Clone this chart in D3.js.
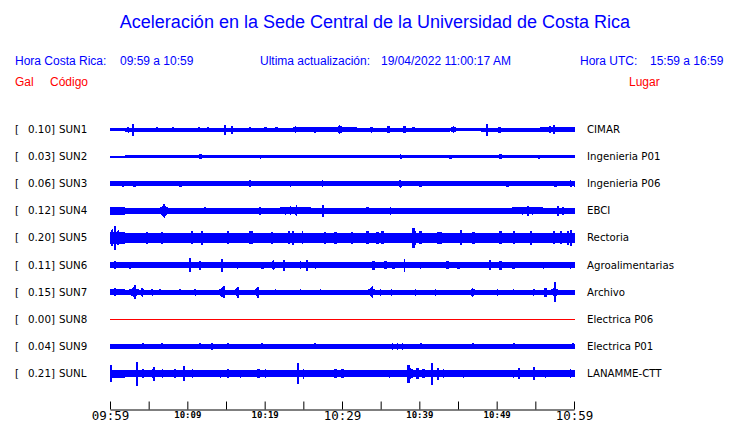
<!DOCTYPE html>
<html><head><meta charset="utf-8">
<script src="https://cdn.jsdelivr.net/npm/d3@7"></script>
<style>
html,body{margin:0;padding:0;background:#fff;}
svg{display:block;}
</style></head>
<body>
<script>
// ---------- DATA ----------
const stations = ["SUN1","SUN2","SUN3","SUN4","SUN5","SUN6","SUN7","SUN8","SUN9","SUNL"];
const galValues = [0.10,0.03,0.06,0.12,0.20,0.11,0.15,0.00,0.04,0.21];
const places = ["CIMAR","Ingenieria P01","Ingenieria P06","EBCI","Rectoria","Agroalimentarias","Archivo","Electrica P06","Electrica P01","LANAMME-CTT"];
const tickLabels = ["09:59","10:09","10:19","10:29","10:39","10:49","10:59"];
const tickMinutes = [0,5,10,15,20,25,30,35,40,45,50,55,60];

// envelope half-amplitude (relative units) every 2 minutes, 0..60
const baseSUN1 = [1.2,1.5,1.5,1.5,1.5,1.5,1.5,1.5,1.5,1.5,1.5,1.5,1.8,1.8,1.8,1.8,1.5,1.5,1.5,1.5,1.5,1.5,1.2,1.2,1.5,1.5,1.5,1.5,1.6,1.6,1.6];
const baseSUN2 = [0.5,1.2,1.2,1.0,1.3,1.3,1.2,1.3,1.3,1.2,1.3,1.3,1.3,1.2,1.2,1.3,1.3,1.3,1.3,1.2,1.3,1.2,1.0,1.0,1.2,1.2,1.0,1.2,1.3,1.3,1.3];
const baseSUN3 = [1.9,2.1,2.1,2.1,2.1,2.1,2.1,2.1,2.1,2.1,2.1,2.1,2.1,2.1,2.1,2.1,2.1,2.1,2.1,2.1,2.1,2.1,2.1,2.1,2.1,2.1,2.1,2.1,2.1,2.1,2.3];
const baseSUN4 = [3.3,2.7,2.6,2.6,2.6,2.6,2.6,2.6,2.6,2.6,2.6,3.0,3.0,2.6,2.6,2.4,2.6,2.6,2.6,2.6,2.6,2.6,2.6,2.6,2.6,2.6,3.0,3.0,2.7,2.7,2.7];
const baseSUN5 = [5.5,4.7,4.5,4.5,4.5,4.5,4.5,4.5,4.5,4.5,4.5,4.9,4.9,4.5,4.5,4.5,4.3,4.5,4.5,4.9,4.5,4.5,4.5,4.5,4.5,4.5,4.5,4.5,4.9,4.9,4.9];
const baseSUN6 = [2.8,2.2,2.2,2.2,2.2,2.2,2.2,2.2,2.2,2.2,2.2,2.2,2.2,2.2,2.2,2.2,2.2,2.2,2.2,2.2,2.2,2.2,2.2,2.2,2.2,2.2,2.2,2.2,2.2,2.2,2.2];
const baseSUN7 = [2.2,2.0,2.0,2.0,2.0,2.0,2.0,2.0,2.0,2.0,2.0,2.0,2.0,2.0,2.0,2.0,2.0,2.0,2.0,2.0,2.0,2.0,2.0,2.0,2.0,2.0,2.0,2.0,2.0,2.0,2.0];
const baseSUN8 = [0,0,0,0,0,0,0,0,0,0,0,0,0,0,0,0,0,0,0,0,0,0,0,0,0,0,0,0,0,0,0];
const baseSUN9 = [1.7,1.7,1.7,1.7,1.7,1.7,1.7,1.7,1.7,1.7,1.7,1.7,1.7,1.7,1.7,1.7,1.7,1.7,1.7,1.7,1.7,1.7,1.7,1.7,1.7,1.7,1.7,1.7,1.7,1.7,1.7];
const baseSUNL = [3.5,2.7,2.7,2.7,2.7,2.7,2.7,2.7,2.7,2.7,2.7,2.7,2.7,2.7,2.7,2.7,2.7,2.7,3.2,3.2,3.2,3.2,2.7,2.7,2.7,2.7,2.7,2.7,2.7,2.7,2.9];

// bursts: [minute, half-amplitude, duration (min)]
const burstsSUN1 = [[2.33,2.5,.3],[2.98,5.5,.12],[6.09,2.2,.3],[8.16,2,.2],[11.53,2,.2],[12.69,2,.2],[14.90,4.5,.12],[15.80,3.5,.12],[18.13,2,.2],[20.08,2,.2],[21.50,2,.2],[23.96,3,.6],[26.55,2.5,.12],[29.66,4,.5],[29.92,3,.3],[33.81,2.5,.5],[36.01,3,.15],[38.08,3,.15],[39.25,2,.2],[44.43,3,.6],[48.70,5.5,.12],[50.39,2.5,.2],[55.83,2,.2],[56.87,3,.15],[57.38,4,.12]];
const burstsSUN2 = [[11.7,1.7,.2],[19.5,1.6,.3],[37.6,2.0,.3],[44.0,1.6,.2],[50.5,1.7,.2],[55.5,1.6,.2]];
const burstsSUN3 = [[1.68,2.7,.15],[3.2,2.5,.2],[9.1,2.5,.2],[18.13,3,.2],[23.3,2.5,.3],[27.46,3,.3],[37.56,3.5,.8],[40.16,2.7,.2],[51.42,2.7,.2],[57.64,2.7,.2],[59.59,3,.3]];
const burstsSUN4 = [[0.65,3.8,.3],[1.3,3.5,.2],[6.99,6.5,.8],[12.31,3,.2],[19.43,3.5,.15],[22.67,3.5,.4],[23.32,4,.4],[24.09,5,.3],[27.59,5.5,.12],[31.09,2.8,.2],[33.29,3,.15],[36.27,3.5,.6],[53.37,3.5,.4],[54.02,4.5,.15],[54.66,3.5,.3],[57.90,4.5,.15],[58.55,3.5,.2]];
const burstsSUN5 = [[0.26,8,.3],[0.65,11.5,.2],[1.04,7,.4],[4.8,5.5,.15],[6.7,5.5,.15],[10.6,6,.15],[11.92,6.5,.15],[15.3,6,.15],[18.1,6,.15],[18.39,6,.15],[21.0,5.5,.15],[23.1,6,.15],[23.70,6.5,.15],[24.87,6,.6],[27.8,5.5,.15],[29.15,5.5,.2],[31.3,5.5,.15],[33.3,6,.15],[34.6,5.5,.15],[35.23,6,.15],[39.25,9.5,.15],[39.51,6.5,.6],[40.16,6,.15],[42.4,5.5,.15],[42.75,5.5,.2],[45.34,7,.15],[47.0,5.5,.15],[50.5,6,.15],[52.2,6,.15],[54.40,6.5,.15],[57.4,6,.15],[58.29,6,.2],[59.2,6.5,.15],[59.59,7.5,.15]];
const burstsSUN6 = [[0.65,3.5,.8],[2.59,3,.2],[5.18,2.8,.3],[10.36,6.5,.12],[11.66,4,.2],[14.51,6,.12],[16.45,3,.6],[19.69,3,.2],[21.11,4.5,.5],[22.54,5,.12],[24.61,3.5,.3],[25.52,5,.12],[26.55,3,.3],[34.07,4,.15],[35.62,3.5,.2],[36.66,3,.2],[38.08,6,.12],[40.16,3,.3],[43.65,3.5,.2],[45.08,3,.2],[49.09,4.5,.15],[50.52,4,.2],[52.20,3,.2],[56.09,3,.3],[59.59,3,.3]];
const burstsSUN7 = [[0.65,3.5,1],[3.11,4.5,1.2],[3.24,6.3,.12],[4.15,4,.4],[5.44,3,.3],[6.48,2.7,.3],[9.07,2.7,.6],[11.01,3,.3],[14.51,4.5,.8],[14.77,5.5,.12],[16.45,4,.5],[16.58,5,.12],[19.04,4,.6],[19.17,5,.12],[21.37,2.7,.4],[24.61,2.7,.4],[27.20,2.7,.3],[33.81,4.5,.8],[33.94,5.5,.12],[34.97,3,.3],[36.40,3,.3],[39.51,3,.3],[42.10,3,.3],[46.89,4,.6],[50.13,3,.3],[52.20,2.7,.3],[54.79,3,.3],[56.35,4,.2],[57.51,4.5,.8],[57.58,9.5,.12]];
const burstsSUN8 = [];
const burstsSUN9 = [[4.27,2.5,.12],[6.74,2.5,.12],[11.66,2.5,.12],[13.21,3,.12],[15.28,2.5,.12],[19.69,2.5,.12],[26.55,2.5,.12],[36.53,2.8,.12],[37.18,2.8,.12],[37.82,2.8,.12],[40.16,2.5,.12],[46.89,2.5,.12],[52.20,2.5,.12],[59.84,2.5,.12]];
const burstsSUNL = [[0.13,8.3,.12],[1.04,3.5,.4],[3.50,11.5,.12],[4.27,4,.3],[5.57,4.5,.6],[5.70,6.5,.12],[6.74,4,.3],[8.42,4,1],[9.59,7.5,.12],[10.62,4,.3],[14.25,3.5,.3],[15.28,4,.2],[16.84,3.5,.3],[19.17,4,.2],[20.08,4,.8],[24.35,10,.15],[25.00,4.5,.4],[29.15,4,.2],[30.05,4,.2],[36.14,3.5,1.5],[38.60,8.5,.15],[38.86,5,1.5],[39.77,5,.2],[40.54,4,.2],[41.58,10.5,.12],[42.36,5.5,.15],[43.13,4,.3],[45.73,3.5,.3],[52.20,3.5,.3],[52.85,5,.15],[54.79,6,.15],[56.35,3.5,.3],[59.59,4,.3]];

const bases = [baseSUN1,baseSUN2,baseSUN3,baseSUN4,baseSUN5,baseSUN6,baseSUN7,baseSUN8,baseSUN9,baseSUNL];
const bursts = [burstsSUN1,burstsSUN2,burstsSUN3,burstsSUN4,burstsSUN5,burstsSUN6,burstsSUN7,burstsSUN8,burstsSUN9,burstsSUNL];

// ---------- DRAW ----------
const W = 740, H = 423;
const BLUE = "#0000ff", RED = "#ff0000";
const svg = d3.select("body").append("svg").attr("width", W).attr("height", H);
const sans = "'Liberation Sans', Arial, Helvetica, sans-serif";
const dv = "'DejaVu Sans', sans-serif";
const mono = "'DejaVu Sans Mono', monospace";

svg.append("text").attr("x", 375).attr("y", 28).attr("text-anchor","middle")
  .attr("font-family", sans).attr("font-size", 18).attr("fill", BLUE)
  .text("Aceleración en la Sede Central de la Universidad de Costa Rica");

const hdr = [
  ["Hora Costa Rica:", 15], ["09:59 a 10:59", 120],
  ["Ultima actualización:", 260], ["19/04/2022 11:00:17 AM", 381],
  ["Hora UTC:", 580], ["15:59 a 16:59", 650]
];
svg.selectAll("text.hdr").data(hdr).enter().append("text").attr("class","hdr")
  .attr("x", d => d[1]).attr("y", 65).attr("font-family", sans).attr("font-size", 12)
  .attr("fill", BLUE).text(d => d[0]);
const hdr2 = [["Gal", 15], ["Código", 50], ["Lugar", 629]];
svg.selectAll("text.hdr2").data(hdr2).enter().append("text").attr("class","hdr2")
  .attr("x", d => d[1]).attr("y", 86).attr("font-family", sans).attr("font-size", 12)
  .attr("fill", RED).text(d => d[0]);

const x = d3.scaleLinear().domain([0, 60]).range([110, 574]);
const row = d3.scalePoint().domain(stations).range([129, 373]);

stations.forEach((s, i) => {
  const cy = row(s);
  const y = d3.scaleLinear().domain([-13, 13]).range([cy + 13, cy - 13]);
  const g = svg.append("g");
  g.append("text").attr("x", 15).attr("y", cy + 4).attr("font-family", dv).attr("font-size", 10.3).attr("fill","#000").text("[");
  g.append("text").attr("x", 55).attr("y", cy + 4).attr("text-anchor","end").attr("font-family", dv).attr("font-size", 10.3).attr("fill","#000").text(galValues[i].toFixed(2) + "]");
  g.append("text").attr("x", 59).attr("y", cy + 4).attr("font-family", dv).attr("font-size", 10.3).attr("fill","#000").text(s);
  g.append("text").attr("x", 587).attr("y", cy + 4).attr("font-family", dv).attr("font-size", 10.2).attr("fill","#000").text(places[i]);

  const base = bases[i];
  if (d3.max(base) === 0 && bursts[i].length === 0) {
    g.append("line").attr("x1", x(0)).attr("x2", x(60) + 1).attr("y1", Math.round(y(0)) + 0.5).attr("y2", Math.round(y(0)) + 0.5)
      .attr("stroke", RED).attr("stroke-width", 1);
    return;
  }
  const x0 = Math.round(x(0)), x1 = Math.round(x(60)) + 1;
  const pts = [];
  for (let px = x0; px <= x1; px++) {
    const ta = x.invert(px), tb = x.invert(px + 1), tm = (ta + tb) / 2;
    const bi = Math.min(base.length - 1, Math.max(0, Math.floor(tm / 2)));
    let env = base[bi];
    bursts[i].forEach(([tc, amp, dur]) => {
      const half = dur / 2;
      if (tc >= ta - half && tc <= tb + half) {
        const dt = Math.max(0, Math.abs(tm - tc) - (tb - ta) / 2);
        const f = dur > 0.25 ? 1 - 0.55 * Math.sqrt(Math.min(1, dt / half)) : 1;
        env = Math.max(env, amp * f);
      }
    });
    pts.push({ px, env });
  }
  const area = d3.area().x(d => d.px).y0(d => Math.round(y(-d.env)) + 0.5).y1(d => Math.round(y(d.env)) - 0.5).curve(d3.curveStepAfter);
  g.append("path").attr("d", area(pts)).attr("fill", BLUE).attr("shape-rendering","crispEdges");
});

// axis
const axis = d3.axisBottom(x).tickValues(tickMinutes).tickSizeInner(-8).tickSizeOuter(0).tickPadding(0)
  .tickFormat(d => d % 10 === 0 ? tickLabels[d / 10] : "");
const ag = svg.append("g").attr("transform", "translate(0,409.5)").call(axis);
ag.select(".domain").attr("stroke", "#000");
ag.selectAll(".tick line").attr("stroke", "#000");
ag.selectAll(".tick text").attr("fill", "#000").attr("font-family", mono)
  .attr("dy", null)
  .attr("y", d => (d % 30 === 0) ? 10.5 : 8.5)
  .attr("font-size", d => (d % 30 === 0) ? 12.5 : 9)
  .attr("font-weight", d => (d % 30 === 0) ? "normal" : "bold");
</script>
</body></html>
